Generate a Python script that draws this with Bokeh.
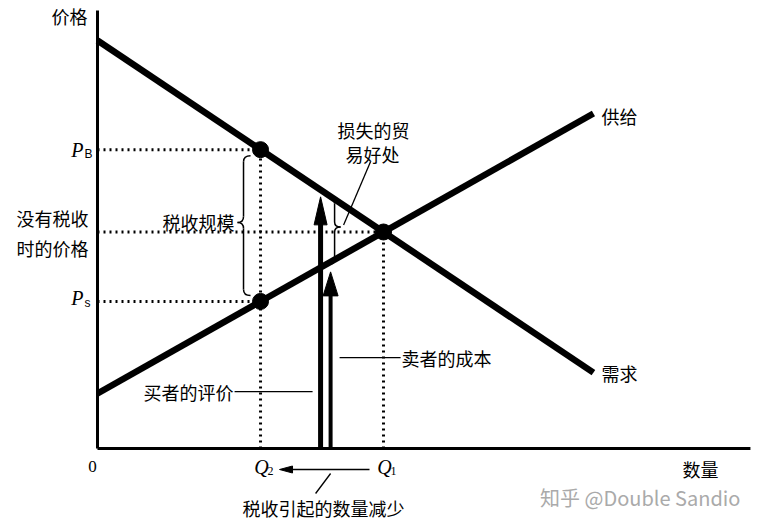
import numpy as np
from bokeh.plotting import figure
from bokeh.models import Range1d
from bokeh.core.properties import value
from bokeh.embed import file_html
from bokeh.resources import INLINE

# ---- data (quantity units, price units) ----
demand_q = [0.0, 17.34]
demand_p = [18.98, 3.53]
supply_q = [0.0, 17.34]
supply_p = [2.56, 15.58]
Q1 = 10.0
P_STAR = 10.07
Q2 = 5.7
P_B = 13.9
P_S = 6.84
q_buyer = 7.8
q_seller = 8.15
axis_q_max = 22.83
axis_p_max = 20.37
dot_q = [Q2, Q2, Q1]
dot_p = [P_B, P_S, P_STAR]

# ---- layout helpers (pixels per unit) ----
SX = 28.6
SY = 21.5
W, H = 752, 525


def dx(px):
    return px / SX


def dy(px):
    return px / SY


x0 = -dx(97)
y0 = -dy(H - 448)
p = figure(width=W, height=H, x_range=Range1d(x0, x0 + dx(W)),
           y_range=Range1d(y0, y0 + dy(H)), x_axis_type=None, y_axis_type=None,
           toolbar_location=None, output_backend="svg", min_border=0,
           outline_line_color=None)
p.grid.visible = False
p.background_fill_color = "white"
p.border_fill_color = "white"

CJK = "Noto Sans CJK SC"
SERIF = "Liberation Serif"
SANS = "Liberation Sans"


def demand(q):
    return float(np.interp(q, demand_q, demand_p))


def supply(q):
    return float(np.interp(q, supply_q, supply_p))


def txt(x, y, s, size=18, align="left", font=CJK, color="black", style="normal"):
    p.text(x=[x], y=[y], text=[s], text_font=value(font),
           text_font_size=value(f"{size}px"), text_align=align,
           text_baseline="middle", text_color=color, text_font_style=style)


# axes
p.segment(x0=[0, 0], y0=[0, 0], x1=[0, axis_q_max], y1=[axis_p_max, 0],
          line_color="black", line_width=3)

# dotted guides
p.segment(x0=[0, 0, 0, Q2, Q1], y0=[P_B, P_STAR, P_S, 0, 0],
          x1=[Q2, Q1, Q2, Q2, Q1], y1=[P_B, P_STAR, P_S, P_B, P_STAR],
          line_color="black", line_width=3, line_dash="2 4")

# demand / supply
p.line(demand_q, demand_p, line_color="black", line_width=6.5)
p.line(supply_q, supply_p, line_color="black", line_width=6.5)

# dots
p.scatter(dot_q, dot_p, size=16, color="black")

# vertical arrows
for qa, top, sw, hl, hw in [(q_buyer, demand(q_buyer) - dy(7), 5, 28, 13),
                            (q_seller, supply(q_seller) - dy(10), 4, 24, 15)]:
    p.segment(x0=[qa], y0=[0], x1=[qa], y1=[top - dy(hl - 2)], line_color="black",
              line_width=sw)
    p.patch([qa, qa - dx(hw / 2), qa + dx(hw / 2)], [top, top - dy(hl), top - dy(hl)],
            color="black")


def brace(xt, xb, xe, ytop, ym, ybot, r):
    p.quadratic(x0=[xe, xb, xt, xb], y0=[ytop, ym + r, ym, ybot + r],
                x1=[xb, xt, xb, xe], y1=[ytop - r, ym, ym - r, ybot],
                cx=[xb, xb, xb, xb], cy=[ytop, ym, ym, ybot],
                line_color="black", line_width=1.5)
    p.segment(x0=[xb, xb], y0=[ytop - r, ym - r], x1=[xb, xb], y1=[ym + r, ybot + r],
              line_color="black", line_width=1.5)


# tax wedge brace
brace(Q2 - dx(23), Q2 - dx(17), Q2 - dx(10), P_B - dy(6),
      (P_B + P_S) / 2 + dy(3), P_S + dy(6), dy(6))
# lost gains brace
brace(q_seller + dx(10), q_seller + dx(4), q_seller - dx(1),
      demand(q_seller) - dy(2), P_STAR + dy(5), supply(q_seller) - dy(2), dy(5))

# leader lines
p.segment(x0=[Q1 - dx(13), q_buyer - dx(86), q_seller + dx(9), q_buyer + dx(10)],
          y0=[P_B - dy(12), 2.65, 4.23, -dy(25)],
          x1=[q_seller + dx(13), q_buyer - dx(8), q_seller + dx(70), q_buyer - dx(5)],
          y1=[P_STAR + dy(7), 2.65, 4.23, -dy(45)],
          line_color="black", line_width=1.3)

# quantity decrease arrow
p.segment(x0=[Q1 - dx(14)], y0=[-dy(21)], x1=[Q2 + dx(30)], y1=[-dy(21)],
          line_color="black", line_width=1.3)
p.patch([Q2 + dx(19), Q2 + dx(32), Q2 + dx(32)],
        [-dy(21), -dy(21) + dy(3.5), -dy(21) - dy(3.5)], color="black")

# labels
txt(-dx(10), axis_p_max - dy(5), "价格", align="right")
txt(-dx(14), P_B, "P", 20, align="right", font=SERIF, style="italic")
txt(-dx(13), P_B - dy(4), "B", 12, font=SANS)
txt(-dx(9), P_STAR + dy(14), "没有税收", align="right")
txt(-dx(9), P_STAR - dy(16), "时的价格", align="right")
txt(-dx(14), P_S + dy(3), "P", 20, align="right", font=SERIF, style="italic")
txt(-dx(13), P_S - dy(2), "s", 12, font=SANS)
txt(Q2 - dx(26), (P_B + P_S) / 2 + dy(4), "税收规模", align="right")
txt(Q1 - dx(10), P_B + dy(20), "损失的贸", align="center")
txt(Q1 - dx(11), P_B - dy(4), "易好处", align="center")
txt(demand_q[1] + dx(8), supply_p[1] - dy(2), "供给")
txt(demand_q[1] + dx(8), demand_p[1], "需求")
txt(q_buyer - dx(87), 2.65, "买者的评价", align="right")
txt(q_seller + dx(71), 4.23, "卖者的成本")
txt(-dx(5), -dy(18), "0", 17, align="center", font=SERIF)
for qv, sub in [(Q2, "2"), (Q1, "1")]:
    txt(qv + dx(1), -dy(18), "Q", 20, align="center", font=SERIF, style="italic")
    txt(qv + dx(7), -dy(22), sub, 12, font=SERIF)
txt(q_buyer + dx(3), -dy(59), "税收引起的数量减少", align="center")
txt(axis_q_max - dx(32), -dy(20), "数量", align="right")
txt(axis_q_max - dx(10), -dy(49), "知乎 @Double Sandio", 20, align="right",
    color="#aaaaaa")

open("out.html", "w").write(file_html(p, INLINE))
